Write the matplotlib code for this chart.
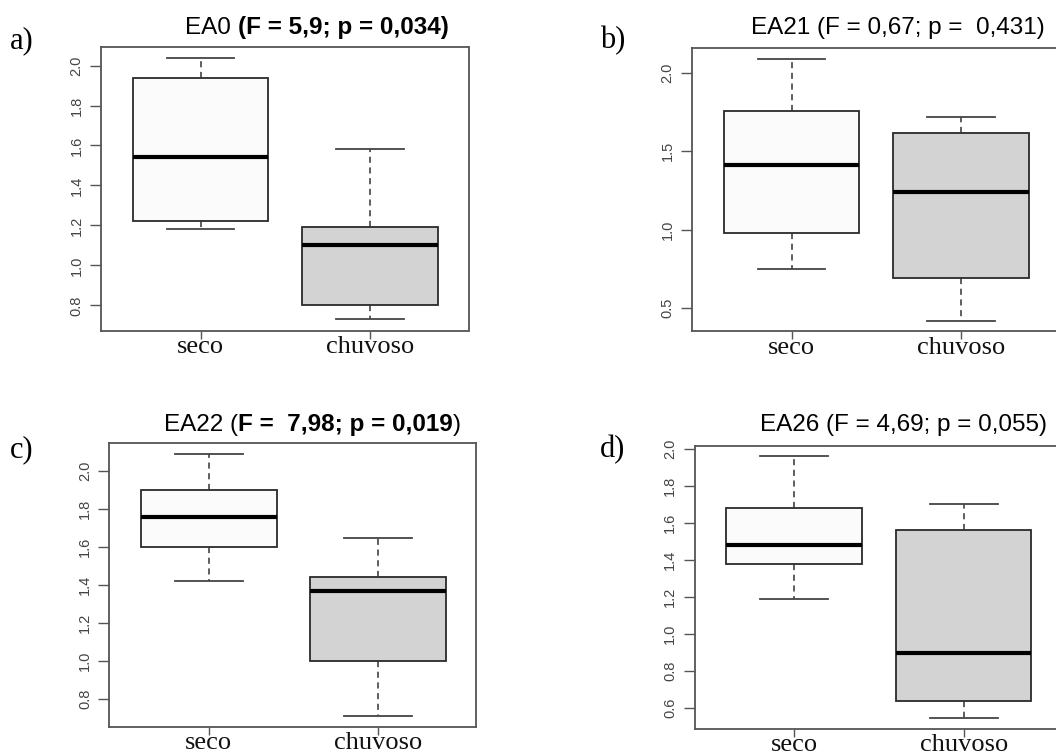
import matplotlib
matplotlib.use("Agg")
import matplotlib.pyplot as plt
from matplotlib.text import Annotation

# -----------------------------
# DATA (box summaries per station)
# order: whislo, q1, median, q3, whishi
# -----------------------------
groups = ["seco", "chuvoso"]

ea0_seco = [1.18, 1.22, 1.54, 1.94, 2.04]
ea0_chuv = [0.73, 0.80, 1.10, 1.19, 1.58]

ea21_seco = [0.75, 0.98, 1.41, 1.76, 2.09]
ea21_chuv = [0.42, 0.69, 1.24, 1.62, 1.72]

ea22_seco = [1.42, 1.60, 1.76, 1.90, 2.09]
ea22_chuv = [0.71, 1.00, 1.37, 1.44, 1.65]

ea26_seco = [1.19, 1.38, 1.48, 1.68, 1.96]
ea26_chuv = [0.55, 0.64, 0.90, 1.56, 1.70]

yticks_a = [0.8, 1.0, 1.2, 1.4, 1.6, 1.8, 2.0]
yticks_b = [0.5, 1.0, 1.5, 2.0]
yticks_c = [0.8, 1.0, 1.2, 1.4, 1.6, 1.8, 2.0]
yticks_d = [0.6, 0.8, 1.0, 1.2, 1.4, 1.6, 1.8, 2.0]

W, H = 1056, 753
fig = plt.figure(figsize=(W / 100, H / 100), dpi=100)


def px_axes(left, top, right, bottom):
    return fig.add_axes([left / W, 1 - bottom / H, (right - left) / W, (bottom - top) / H])


def stats(vals, label):
    lo, q1, med, q3, hi = vals
    return dict(label=label, whislo=lo, q1=q1, med=med, q3=q3, whishi=hi, fliers=[])


def panel(rect, seco, chuv, yticks, ylim):
    ax = px_axes(*rect)
    bx = ax.bxp([stats(seco, groups[0]), stats(chuv, groups[1])],
                positions=[1, 2], widths=0.8, capwidths=0.4,
                patch_artist=True, showfliers=False,
                boxprops=dict(edgecolor="#2a2a2a", linewidth=1.3),
                medianprops=dict(color="black", linewidth=3.0, solid_capstyle="butt"),
                whiskerprops=dict(color="#333333", linewidth=1.1, linestyle=(0, (4, 3))),
                capprops=dict(color="#444444", linewidth=1.3))
    bx["boxes"][0].set_facecolor("#fbfbfb")
    bx["boxes"][1].set_facecolor("#d3d3d3")
    ax.set_xlim(0.413, 2.58)
    ax.set_ylim(*ylim)
    ax.set_yticks(yticks)
    ax.set_yticklabels([f"{t:.1f}" for t in yticks], rotation=90, va="center",
                       fontsize=10.5, color="#444444", family="Liberation Sans")
    ax.set_xticks([1, 2])
    ax.set_xticklabels(groups, fontsize=19, family="Liberation Serif", color="#111111")
    ax.tick_params(axis="y", length=8, width=1, color="#555555", pad=4.5)
    ax.tick_params(axis="x", length=6, width=1, color="#555555", pad=-2)
    for s in ax.spines.values():
        s.set_color("#555555")
        s.set_linewidth(1.3)
    return ax


def title_chain(x, y, parts, size=17.5):
    # pieces of one title, each starting where the previous one ends
    prev = fig.text(x / W, 1 - y / H, parts[0][0], fontsize=size, fontweight=parts[0][1],
                    family="Liberation Sans", ha="left", va="baseline")
    for txt, wt in parts[1:]:
        prev = fig.add_artist(Annotation(
            txt, xy=(1, 0), xycoords=prev, fontsize=size, fontweight=wt,
            family="Liberation Sans", ha="left", va="bottom"))


panel((101, 47, 468.5, 330.5), ea0_seco, ea0_chuv, yticks_a, (0.674, 2.093))
panel((692, 48, 1059.5, 331), ea21_seco, ea21_chuv, yticks_b, (0.354, 2.159))
panel((109.4, 443.3, 476.4, 726.5), ea22_seco, ea22_chuv, yticks_c, (0.654, 2.147))
panel((694.7, 445.7, 1062, 728.5), ea26_seco, ea26_chuv, yticks_d, (0.491, 2.016))

title_chain(185, 34, [("EA0 ", "normal"), ("(F = 5,9; p = 0,034)", "bold")])
title_chain(751, 34, [("EA21 (F = 0,67; p =  0,431)", "normal")])
title_chain(164, 430.5, [("EA22 (", "normal"), ("F =  7,98; p = 0,019", "bold"), (")", "normal")])
title_chain(760, 430.5, [("EA26 (F = 4,69; p = 0,055)", "normal")])

# panel letters
for lab, x, y in [("a)", 10, 48.5), ("b)", 600, 48.5), ("c)", 10, 457), ("d)", 600, 457)]:
    fig.text(x / W, 1 - y / H, lab, fontsize=22, family="Liberation Serif",
             ha="left", va="baseline")

fig.savefig("out.png", dpi=100)
